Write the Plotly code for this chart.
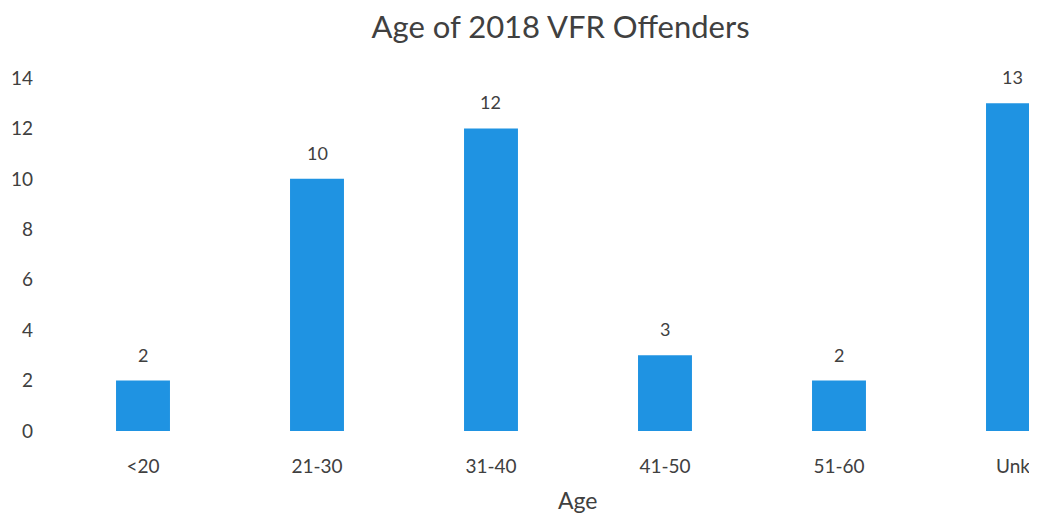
import plotly.graph_objects as go

# Age groups and offender counts
age_groups = ["<20", "21-30", "31-40", "41-50", "51-60", "Unk"]
offenders = [2, 10, 12, 3, 2, 13]

fig = go.Figure()

# Bars
fig.add_trace(go.Bar(
    x=age_groups, y=offenders,
    marker=dict(color="#1F93E2", line=dict(width=0)),
    showlegend=False,
))

# Value labels sitting above each bar
for cat, val in zip(age_groups, offenders):
    fig.add_annotation(x=cat, y=val, text=str(val), showarrow=False,
                       yanchor="middle", yshift=26,
                       font=dict(size=18, color="#404040"))

# Axis title placed like the original (chart area runs past the right edge)
fig.add_annotation(text="Age", xref="paper", yref="paper", x=0.532, y=0,
                   xanchor="center", yanchor="middle", yshift=-69,
                   showarrow=False, font=dict(size=23, color="#404040"))

fig.update_layout(
    width=1029, height=508,
    paper_bgcolor="white", plot_bgcolor="white",
    font=dict(family="Lato, Open Sans, sans-serif", color="#404040"),
    title=dict(text="Age of 2018 VFR Offenders", x=0.537, xanchor="center",
               y=0.962, yanchor="middle", font=dict(size=31, color="#404040")),
    bargap=0.69,
    margin=dict(l=48, r=0, t=70, b=85),
    xaxis=dict(
        range=[-0.5, 5.138], showgrid=False, showline=False, zeroline=False,
        ticks="", ticklabelstandoff=22, tickfont=dict(size=19, color="#404040"),
    ),
    yaxis=dict(
        range=[0, 14], dtick=2, showgrid=False, showline=False, zeroline=False,
        ticks="", ticklabelstandoff=22, tickfont=dict(size=19, color="#404040"),
    ),
)

fig.write_html("out.html")
